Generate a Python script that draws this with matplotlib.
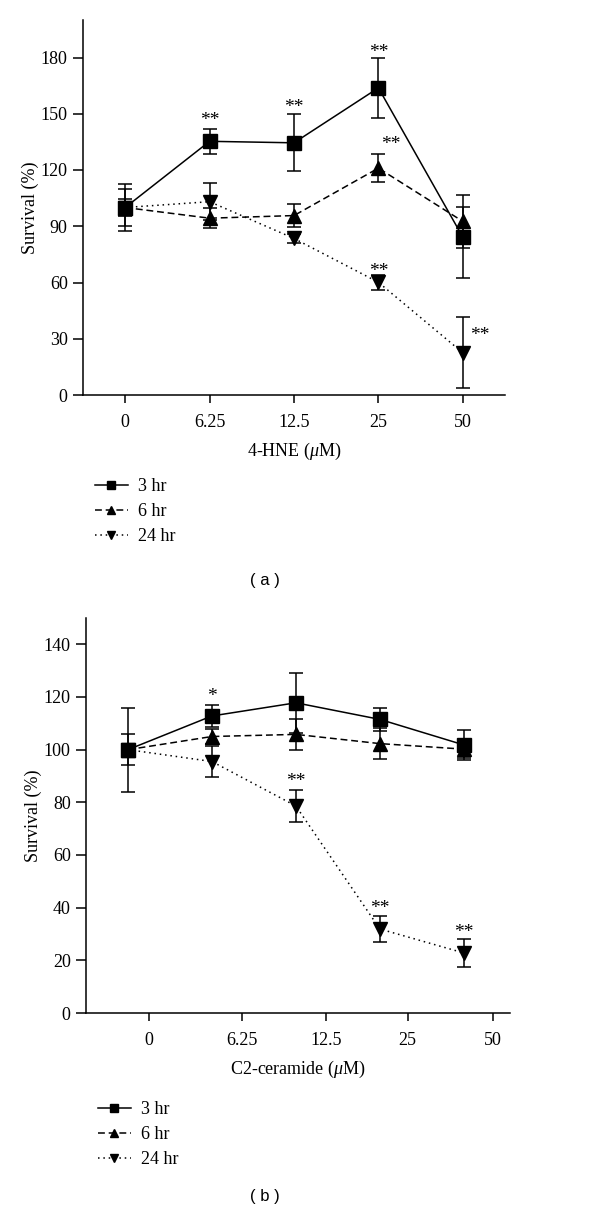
import matplotlib
matplotlib.use("Agg")
import matplotlib.pyplot as plt
from matplotlib.lines import Line2D

plt.rcParams["font.family"] = ["Liberation Serif", "DejaVu Serif"]
plt.rcParams["mathtext.fontset"] = "custom"
plt.rcParams["mathtext.it"] = "Liberation Serif:italic"
plt.rcParams["mathtext.rm"] = "Liberation Serif"

# data
doses = ["0", "6.25", "12.5", "25", "50"]
series = ["3 hr", "6 hr", "24 hr"]

# (a) 4-HNE
hne_3h = [100, 135.3, 134.5, 163.8, 84.2]
hne_3h_lo = [12.5, 6.8, 15.2, 15.8, 22]
hne_3h_hi = [12.5, 6.8, 15.2, 15.8, 16]
hne_6h = [100, 94.3, 95.7, 121, 92.6]
hne_6h_err = [10, 5.4, 6, 7.4, 14]
hne_24h = [100, 103.1, 83.5, 60.1, 22.5]
hne_24h_err = [4.7, 10, 2.5, 4, 19]

# (b) C2-ceramide
cer_3h = [100, 112.8, 117.8, 111.5, 101.8]
cer_3h_err = [16, 4.2, 11.4, 4.4, 5.7]
cer_6h = [100, 105, 105.8, 102.3, 100.2]
cer_6h_err = [6, 3, 6, 6, 3.5]
cer_24h = [100, 95.5, 78.6, 31.9, 22.8]
cer_24h_err = [2, 6, 6, 5, 5.3]

# significance marks: (dose index, y, text)
hne_stars = [(1, 146.5, "**"), (2, 153.5, "**"), (3, 182.5, "**"),
             (3.15, 133.5, "**"), (3, 66, "**"), (4.2, 32, "**")]
cer_stars = [(1, 120, "*"), (2, 88, "**"), (3, 39.5, "**"), (4, 30.5, "**")]
# panel (b) ticks sit a little right of the points in the original
cer_tick_pos = [0.25, 1.36, 2.36, 3.33, 4.35]

styles = [
    dict(marker="s", linestyle="-", markersize=10),
    dict(marker="^", linestyle=(0, (4.5, 2.5)), markersize=10.5),
    dict(marker="v", linestyle=(0, (1, 2.5)), markersize=10.5),
]

fig = plt.figure(figsize=(6, 12.24), dpi=100)
ax1 = fig.add_axes([83 / 600, 1 - 395 / 1224, 422 / 600, 375 / 1224])
ax2 = fig.add_axes([86 / 600, 1 - 1013 / 1224, 424 / 600, 395 / 1224])


def draw(ax, ys, errs, stars, ylim, yticks, xlabel, xticks, xmax):
    x = list(range(len(doses)))
    for i in [2, 1, 0]:
        st = styles[i]
        ax.errorbar(x, ys[i], yerr=errs[i], color="black", lw=1.1,
                    elinewidth=1.1, capsize=5, capthick=1.1,
                    marker=st["marker"], markersize=st["markersize"],
                    linestyle=st["linestyle"], zorder=3 + (2 - i))
    for xs, yv, t in stars:
        ax.text(xs, yv, t, ha="center", va="center", fontsize=14)
    ax.set_xlim(-0.5, xmax)
    ax.set_ylim(*ylim)
    ax.set_yticks(yticks)
    ax.set_xticks(xticks)
    ax.set_xticklabels(doses)
    ax.set_xlabel(xlabel, fontsize=13, labelpad=7)
    ax.set_ylabel("Survival (%)", fontsize=13, labelpad=1)
    for s in ["top", "right"]:
        ax.spines[s].set_visible(False)
    for s in ["left", "bottom"]:
        ax.spines[s].set_linewidth(1.1)
    ax.tick_params(axis="y", length=7, width=1.1, labelsize=13, pad=4)
    ax.tick_params(axis="x", length=5.5, width=1.1, labelsize=13, pad=8)


draw(ax1, [hne_3h, hne_6h, hne_24h],
     [[hne_3h_lo, hne_3h_hi], hne_6h_err, hne_24h_err],
     hne_stars, (0, 200), range(0, 181, 30),
     r"4-HNE ($\mathit{\mu}$M)", list(range(5)), 4.5)
draw(ax2, [cer_3h, cer_6h, cer_24h],
     [cer_3h_err, cer_6h_err, cer_24h_err],
     cer_stars, (0, 150), range(0, 141, 20),
     r"C2-ceramide ($\mathit{\mu}$M)", cer_tick_pos, 4.55)

handles = [Line2D([], [], color="black", lw=1.1, marker=st["marker"],
                  markersize=st["markersize"], linestyle=st["linestyle"])
           for st in styles]
for top, left in [(478, 95), (1101, 98)]:
    fig.legend(handles, series, loc="upper left",
               bbox_to_anchor=(left / 600, 1 - top / 1224),
               frameon=False, fontsize=13, handlelength=1.8,
               handletextpad=0.6, labelspacing=0.45, markerscale=0.6,
               borderpad=0, borderaxespad=0)

fig.text(265 / 600, 1 - 581 / 1224, "( a )", ha="center", va="center",
         fontsize=12, family="Liberation Sans")
fig.text(265 / 600, 1 - 1197 / 1224, "( b )", ha="center", va="center",
         fontsize=12, family="Liberation Sans")

fig.savefig("out.png", dpi=100)
